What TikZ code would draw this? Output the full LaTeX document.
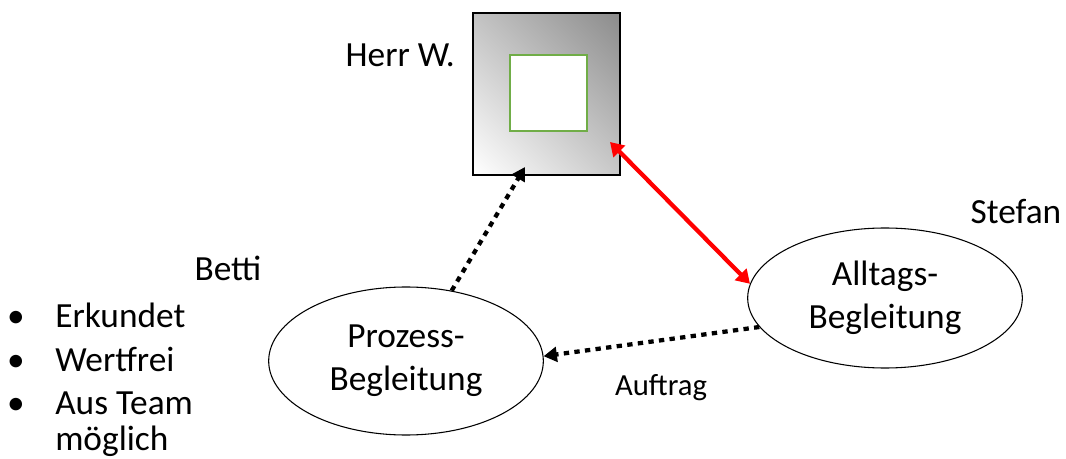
\documentclass[tikz,border=0pt]{standalone}
\usepackage{fontspec}
\setmainfont{Carlito}
\usetikzlibrary{arrows.meta,shapes.geometric}
\definecolor{framegreen}{HTML}{70AD47}
\definecolor{linkred}{HTML}{FF0000}
% soft diagonal fade for the person box
\pgfdeclareverticalshading{boxfade}{100bp}{color(0bp)=(white); color(15bp)=(white);
  color(85bp)=(black!45); color(100bp)=(black!45)}
\begin{document}
\begin{tikzpicture}[x=0.75pt,y=-0.75pt,
  lbl/.style={font=\fontsize{26.5}{32}\selectfont, inner sep=0pt},
  bubble/.style={draw, ellipse, line width=0.8pt, inner sep=0pt, align=center,
    font=\fontsize{26.5}{32}\selectfont, minimum width=206pt},
  dotlink/.style={line width=3.2pt, dash pattern=on 4pt off 4pt, -{Triangle[length=10pt,width=11pt]}},
  redlink/.style={linkred, line width=3.2pt, {Triangle[length=10pt,width=12pt]}-{Triangle[length=10pt,width=12pt]}}]
\useasboundingbox (0,0) rectangle (1066,459);

% person box with gradient and inner frame
\shade[shading=boxfade, shading angle=-45]
  (473,13) rectangle (620,175);
\draw[line width=1pt] (473,13) rectangle (620,175);
\node[draw=framegreen, fill=white, line width=1.3pt, minimum width=57.5pt, minimum height=57pt, inner sep=0pt]
  (inner) at (548.5,93) {};
\coordinate (boxbottom) at (525,167);
\coordinate (boxcorner) at (610,142);

\node[lbl, anchor=base east] (herr) at (455,67) {Herr W.};
\node[lbl, anchor=base] (stefan) at (1016,224) {Stefan};
\node[lbl, anchor=base] (betti) at (228,281) {Betti};

\node[bubble, minimum height=105pt] (alltag) at (885,298) {Alltags-\\Begleitung};
\node[bubble, minimum height=111pt] (prozess) at (406,361) {Prozess-\\Begleitung};

% connections
\draw[dotlink] (prozess.57) -- (boxbottom);
\draw[redlink] (boxcorner) -- (alltag.174);
\draw[dotlink] (alltag.193) -- (prozess.2);

\node[font=\fontsize{23}{27}\selectfont, inner sep=0pt, anchor=base] (auftrag) at (661,395) {Auftrag};

% bullet list
\node[lbl, anchor=base] (b1) at (16,327) {•};
\node[lbl, anchor=base west] (t1) at (55,327) {Erkundet};
\node[lbl, anchor=base] (b2) at (16,371) {•};
\node[lbl, anchor=base west] (t2) at (55,371) {Wertfrei};
\node[lbl, anchor=base] (b3) at (16,414) {•};
\node[lbl, anchor=base west] (t3) at (55,414) {Aus Team};
\node[lbl, anchor=base west] (t4) at (55,450) {möglich};
\end{tikzpicture}
\end{document}
